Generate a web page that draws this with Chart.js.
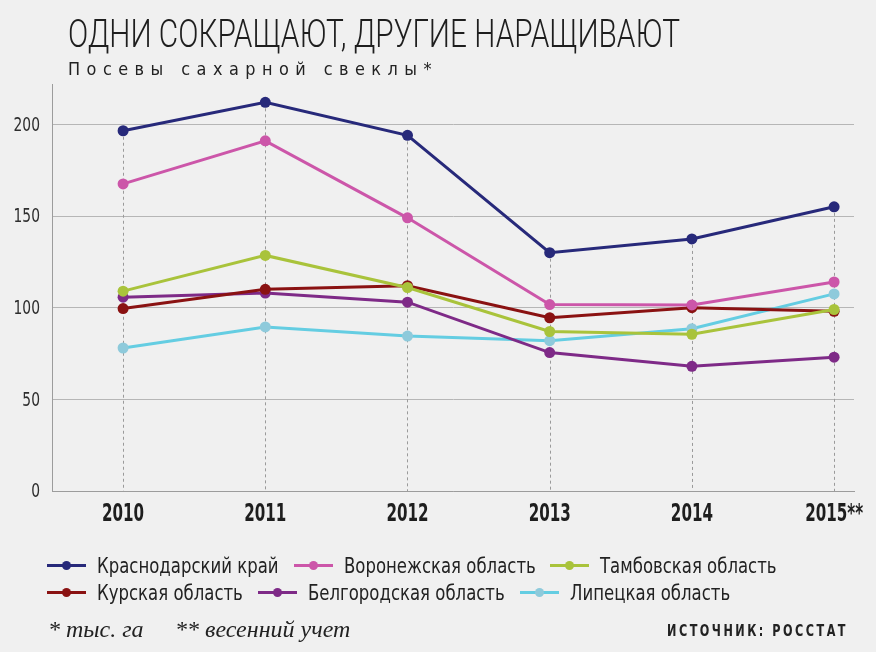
<!DOCTYPE html>
<html lang="ru">
<head>
<meta charset="utf-8">
<title>Посевы сахарной свеклы</title>
<script src="https://cdn.jsdelivr.net/npm/chart.js@4.4.1/dist/chart.umd.min.js"></script>
<style>
    html, body {
        margin: 0;
        padding: 0;
        background: #f0f0f0;
    }
    #wrap {
        position: relative;
        width: 876px;
        height: 652px;
        overflow: hidden;
        font-family: "DejaVu Sans Condensed", sans-serif;
        color: #222;
    }
    #chart {
        position: absolute;
        left: 0;
        top: 0;
    }
    .fit {
        position: absolute;
        white-space: nowrap;
        line-height: 1;
        transform-origin: left top;
    }
    .title {
        left: 68px;
        top: 15px;
        font-family: Roboto, sans-serif;
        font-size: 39px;
        font-weight: 300;
        color: #1e1e1e;
    }
    .subtitle {
        left: 68px;
        top: 60px;
        font-size: 18px;
        letter-spacing: 6.5px;
        color: #222;
    }
    .source {
        left: 667px;
        top: 624px;
        font-size: 15px;
        font-weight: bold;
        letter-spacing: 3px;
        color: #222;
    }
    .item {
        position: absolute;
        display: flex;
        align-items: center;
        height: 26px;
        font-size: 22px;
        color: #222;
        white-space: nowrap;
    }
    .item .txt {
        display: inline-block;
        transform: scaleX(0.835);
        transform-origin: left center;
    }
    .mark {
        position: relative;
        width: 39px;
        height: 3px;
        margin-right: 11px;
        flex: none;
    }
    .mark span {
        position: absolute;
        left: 15px;
        top: -3px;
        width: 9px;
        height: 9px;
        border-radius: 50%;
    }
    .note {
        position: absolute;
        top: 616px;
        font-family: "Liberation Serif", "DejaVu Serif", serif;
        font-style: italic;
        font-size: 24px;
        color: #222;
        white-space: nowrap;
    }
</style>
</head>
<body>
<div id="wrap">
    <canvas id="chart" width="876" height="652"></canvas>
    <div class="fit title" data-w="612">ОДНИ СОКРАЩАЮТ, ДРУГИЕ НАРАЩИВАЮТ</div>
    <div class="fit subtitle" data-w="370">Посевы сахарной свеклы*</div>
    <div id="legend"></div>
    <div class="note" style="left:48px">* тыс. га</div>
    <div class="note" style="left:175px">** весенний учет</div>
    <div class="fit source" data-w="181">ИСТОЧНИК: РОССТАТ</div>
</div>

<script>
// данные (тыс. га)
const years = [2010, 2011, 2012, 2013, 2014, 2015];
const yearLabels = ['2010', '2011', '2012', '2013', '2014', '2015**'];

const regionNames = ['Краснодарский край', 'Воронежская область', 'Тамбовская область',
    'Курская область', 'Белгородская область', 'Липецкая область'];

const krasnodar = [196.5, 212, 194, 130, 137.5, 155];
const voronezh = [167.5, 191, 149, 101.7, 101.5, 114];
const tambov = [109, 128.5, 111, 87, 85.5, 99];
const kursk = [99.5, 110, 112, 94.5, 100, 98];
const belgorod = [105.7, 108, 103, 75.5, 68, 73];
const lipetsk = [78, 89.5, 84.5, 82, 88.5, 107.5];

const lineColors = ['#27297a', '#cc56a9', '#a9c33b', '#8a1212', '#7e2a87', '#64cde2'];
const pointColors = ['#27297a', '#cc56a9', '#a9c33b', '#8a1212', '#7e2a87', '#8ecadb'];

const yTicks = [0, 50, 100, 150, 200];

const seriesValues = [krasnodar, voronezh, tambov, kursk, belgorod, lipetsk];

// пунктир от верхней точки каждого года до оси
const dropLines = {
    id: 'dropLines',
    beforeDatasetsDraw(chart) {
        const ctx = chart.ctx;
        const bottom = chart.chartArea.bottom;
        ctx.save();
        ctx.strokeStyle = '#9a9a9a';
        ctx.lineWidth = 1;
        ctx.setLineDash([3, 3]);
        years.forEach((year, i) => {
            let top = bottom;
            let x = null;
            chart.data.datasets.forEach((ds, d) => {
                const pt = chart.getDatasetMeta(d).data[i];
                if (pt) {
                    top = Math.min(top, pt.y);
                    x = pt.x;
                }
            });
            if (x === null) return;
            ctx.beginPath();
            ctx.moveTo(Math.round(x) + 0.5, top);
            ctx.lineTo(Math.round(x) + 0.5, bottom);
            ctx.stroke();
        });
        ctx.restore();
    }
};

// подписи осей узким шрифтом (сжатие по горизонтали)
const narrowLabels = {
    id: 'narrowLabels',
    afterDraw(chart) {
        const ctx = chart.ctx;
        const xs = chart.scales.x;
        const ys = chart.scales.y;
        ctx.save();
        ctx.textBaseline = 'middle';

        ctx.fillStyle = '#1e1e1e';
        ctx.font = 'bold 24px "DejaVu Sans Condensed"';
        ctx.textAlign = 'center';
        years.forEach((yr, i) => {
            ctx.save();
            ctx.translate(xs.getPixelForValue(yr), chart.chartArea.bottom + 24);
            ctx.scale(0.7, 1);
            ctx.fillText(yearLabels[i], 0, 0);
            ctx.restore();
        });

        ctx.fillStyle = '#2e2e2e';
        ctx.font = '20px "DejaVu Sans Condensed"';
        ctx.textAlign = 'right';
        yTicks.forEach(v => {
            ctx.save();
            ctx.translate(chart.chartArea.left - 12, ys.getPixelForValue(v) + 1);
            ctx.scale(0.77, 1);
            ctx.fillText(String(v), 0, 0);
            ctx.restore();
        });
        ctx.restore();
    }
};

const datasets = seriesValues.map((values, s) => ({
    label: regionNames[s],
    data: values.map((v, i) => ({ x: years[i], y: v })),
    borderColor: lineColors[s],
    backgroundColor: pointColors[s],
    pointBackgroundColor: pointColors[s],
    pointBorderColor: pointColors[s],
    borderWidth: 3,
    pointRadius: 5.5,
    pointBorderWidth: 0,
    fill: false,
    tension: 0
}));

const ctx = document.getElementById('chart');
new Chart(ctx, {
    type: 'line',
    data: { datasets: datasets },
    plugins: [dropLines, narrowLabels],
    options: {
        responsive: false,
        animation: false,
        layout: {
            padding: { top: 84, right: 22, bottom: 121, left: 0 }
        },
        scales: {
            x: {
                type: 'linear',
                min: 2009.5,
                max: 2015.14,
                afterBuildTicks: function (scale) {
                    scale.ticks = years.map(v => ({ value: v }));
                },
                afterFit: function (scale) {
                    scale.height = 40;
                },
                grid: { display: false, drawTicks: false },
                border: { display: true, color: '#9c9c9c', width: 1 },
                ticks: { display: false }
            },
            y: {
                min: 0,
                max: 222,
                afterBuildTicks: function (scale) {
                    scale.ticks = yTicks.map(v => ({ value: v }));
                },
                afterFit: function (scale) {
                    scale.width = 52;
                },
                grid: {
                    drawTicks: false,
                    color: '#b6b6b6',
                    lineWidth: 1
                },
                border: { display: true, color: '#9c9c9c', width: 1 },
                ticks: { display: false }
            }
        },
        plugins: {
            legend: { display: false },
            tooltip: { enabled: false }
        }
    }
});

// заголовки по ширине оригинала
document.querySelectorAll('.fit').forEach(el => {
    const w = el.getBoundingClientRect().width;
    el.style.transform = 'scaleX(' + (parseFloat(el.dataset.w) / w) + ')';
});

// легенда: два ряда по три
const legendEl = document.getElementById('legend');
let lx = 47;
let row = 0;
regionNames.forEach((name, s) => {
    if (s === 3) {
        lx = 47;
        row = 1;
    }
    const item = document.createElement('div');
    item.className = 'item';
    item.style.left = lx + 'px';
    item.style.top = (552 + row * 27) + 'px';
    item.innerHTML = '<div class="mark" style="background:' + lineColors[s] + '"><span style="background:' +
        pointColors[s] + '"></span></div><span class="txt">' + name + '</span>';
    legendEl.appendChild(item);
    lx += 39 + 11 + item.querySelector('.txt').getBoundingClientRect().width + 15;
});
</script>
</body>
</html>
